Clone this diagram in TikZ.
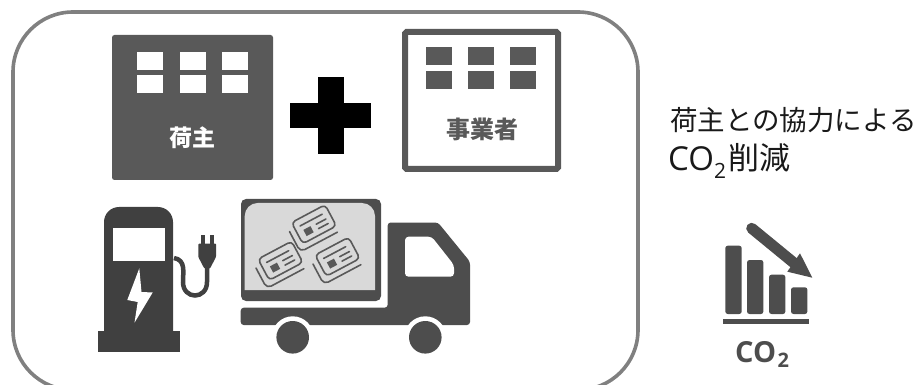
\documentclass[tikz,border=0pt]{standalone}
\usepackage{fontspec}
\setmainfont{Open Sans}
\newfontfamily\cjk{Noto Sans CJK JP}
\definecolor{frameg}{HTML}{808080}
\definecolor{bldg}{HTML}{595959}
\definecolor{pump}{HTML}{404040}
\definecolor{truck}{HTML}{4D4D4D}
\definecolor{cargo}{HTML}{D9D9D9}
\tikzset{
  framebox/.style={draw=frameg,line width=3.6pt,rounded corners=60pt},
  bldfill/.style={fill=bldg,draw=none},
  winwhite/.style={fill=white,draw=none},
  inkfill/.style={fill=truck,draw=none},
  cardline/.style={draw=bldg,line width=1.6pt,line cap=round,line join=round},
  cardicon/.pic={
    \draw[cardline,rounded corners=4pt] (-18,-14) rectangle (20,10);
    \draw[cardline,rounded corners=5pt] (-24,-7) -- (-24,16) -- (18,16);
    \draw[cardline] (-12,-7) -- (13,-7);
    \draw[cardline] (3,-1) -- (14,-1);
    \draw[cardline] (3,4) -- (14,4);
    \fill[bldg] (-11,-2) rectangle (-3,5);
  }
}
\begin{document}
\begin{tikzpicture}[x=1pt,y=-1pt]
\useasboundingbox (0,0) rectangle (919,385);
\begin{scope}
\clip (0,0) rectangle (919,385);
\draw[framebox] (13,12) rectangle (638,390);
\end{scope}
% shipper building
\fill[bldfill,rounded corners=2.5pt] (112,35) rectangle (273,180);
\foreach \x in {137,180,222}{
  \fill[winwhite] (\x,52) rectangle ++(26,18);
  \fill[winwhite] (\x,75) rectangle ++(26,18);
}
\node[text=white,font=\cjk\bfseries\fontsize{23}{25}\selectfont,inner sep=0pt] (shipper) at (192,138) {荷主};
% plus
\fill[black] (318,77) rectangle (344,154);
\fill[black] (290,103) rectangle (371,128);
% operator building
\draw[draw=bldg,line width=6pt,rounded corners=1.5pt] (405,32) rectangle (558,169);
\foreach \x in {426,468,510}{
  \fill[bldfill] (\x,47) rectangle ++(26,18);
  \fill[bldfill] (\x,71) rectangle ++(26,18);
}
\node[text=bldg,font=\cjk\bfseries\fontsize{24}{26}\selectfont,inner sep=0pt] (operator) at (482,129) {事業者};
% charger
\fill[pump] (104,331) -- (104,222) arc[start angle=180,end angle=90,radius=15pt] -- (158,207) arc[start angle=90,end angle=0,radius=15pt] -- (173,331) -- cycle;
\fill[pump] (98,331) rectangle (180,352);
\fill[white] (113,228) rectangle (165,261);
\fill[white] (139.3,268.3) -- (141.5,292) -- (152.7,292.5) -- (134.5,322.7) -- (137.7,302) -- (127.3,300) -- cycle;
\draw[draw=pump,line width=4.5pt] (174,258) .. controls (186,260) and (183,272) .. (183,282) .. controls (183,300) and (207,300) .. (207,282) -- (207,266);
\fill[pump,rounded corners=1pt] (198.3,243.5) -- (216,243.5) -- (216,257) -- (210,268.5) -- (204.3,268.5) -- (198.3,257) -- cycle;
\fill[pump] (201,235) rectangle (204.5,244);
\fill[pump] (210,235) rectangle (213.5,244);
% truck
\fill[inkfill,rounded corners=5pt] (241,199) rectangle (381,301);
\fill[cargo] (244.7,290) -- (244.7,216) arc[start angle=180,end angle=90,radius=13pt] -- (362,203) arc[start angle=90,end angle=0,radius=13pt] -- (375,290) -- cycle;
\pic at (314,226.5) [rotate=28] {cardicon};
\pic at (280.5,263) [rotate=28] {cardicon};
\pic at (337.5,259) [rotate=28] {cardicon};
\fill[inkfill,rounded corners=3pt] (240.7,307.7) -- (387.7,307.7) -- (387.7,222.5) -- (438,222.5) -- (470,261.7) -- (470,325) -- (240.7,325) -- cycle;
\fill[white] (292.7,337.3) circle[radius=21pt];
\fill[white] (425.3,337.3) circle[radius=21pt];
\fill[inkfill] (292.7,337.3) circle[radius=16.3pt];
\fill[inkfill] (425.3,337.3) circle[radius=16.3pt];
\fill[white,rounded corners=3.5pt] (405,236.7) -- (431.7,236.7) -- (454,265) -- (454,276.7) -- (405,276.7) -- cycle;
% right text
\node[anchor=west,inner sep=0pt,text=black!90,font=\cjk\fontsize{27.5}{30}\selectfont] (line1) at (670,120) {荷主との協力による};
\node[anchor=west,inner sep=0pt,text=black!90,font=\fontsize{33}{35}\selectfont] (co) at (668,159) {CO};
\node[anchor=west,inner sep=0pt,text=black!90,font=\fontsize{21}{23}\selectfont] (two) at (714,170.5) {2};
\node[anchor=west,inner sep=0pt,text=black!90,font=\cjk\fontsize{31}{33}\selectfont] (cut) at (728,158) {削減};
% chart icon
\foreach \x/\t in {725.3/245.7,747/260,769/274.7,791/287.3}{
  \fill[inkfill,rounded corners=2.5pt] (\x,314) -- (\x,\t) -- ++(16.4,0) -- (\x+16.4,314) -- cycle;
}
\fill[inkfill] (722.7,319) rectangle (809,324);
\draw[draw=truck,line width=11pt,line cap=round] (751.7,228.3) -- (794,263);
\fill[inkfill] (812.3,277.7) -- (800,253.3) -- (787.3,271.7) -- cycle;
\node[anchor=west,inner sep=0pt,text=truck,font=\bfseries\fontsize{29}{31}\selectfont] (co2) at (735,351.7) {CO};
\node[anchor=west,inner sep=0pt,text=truck,font=\bfseries\fontsize{20}{22}\selectfont] (co2b) at (777.5,360) {2};
\end{tikzpicture}
\end{document}
